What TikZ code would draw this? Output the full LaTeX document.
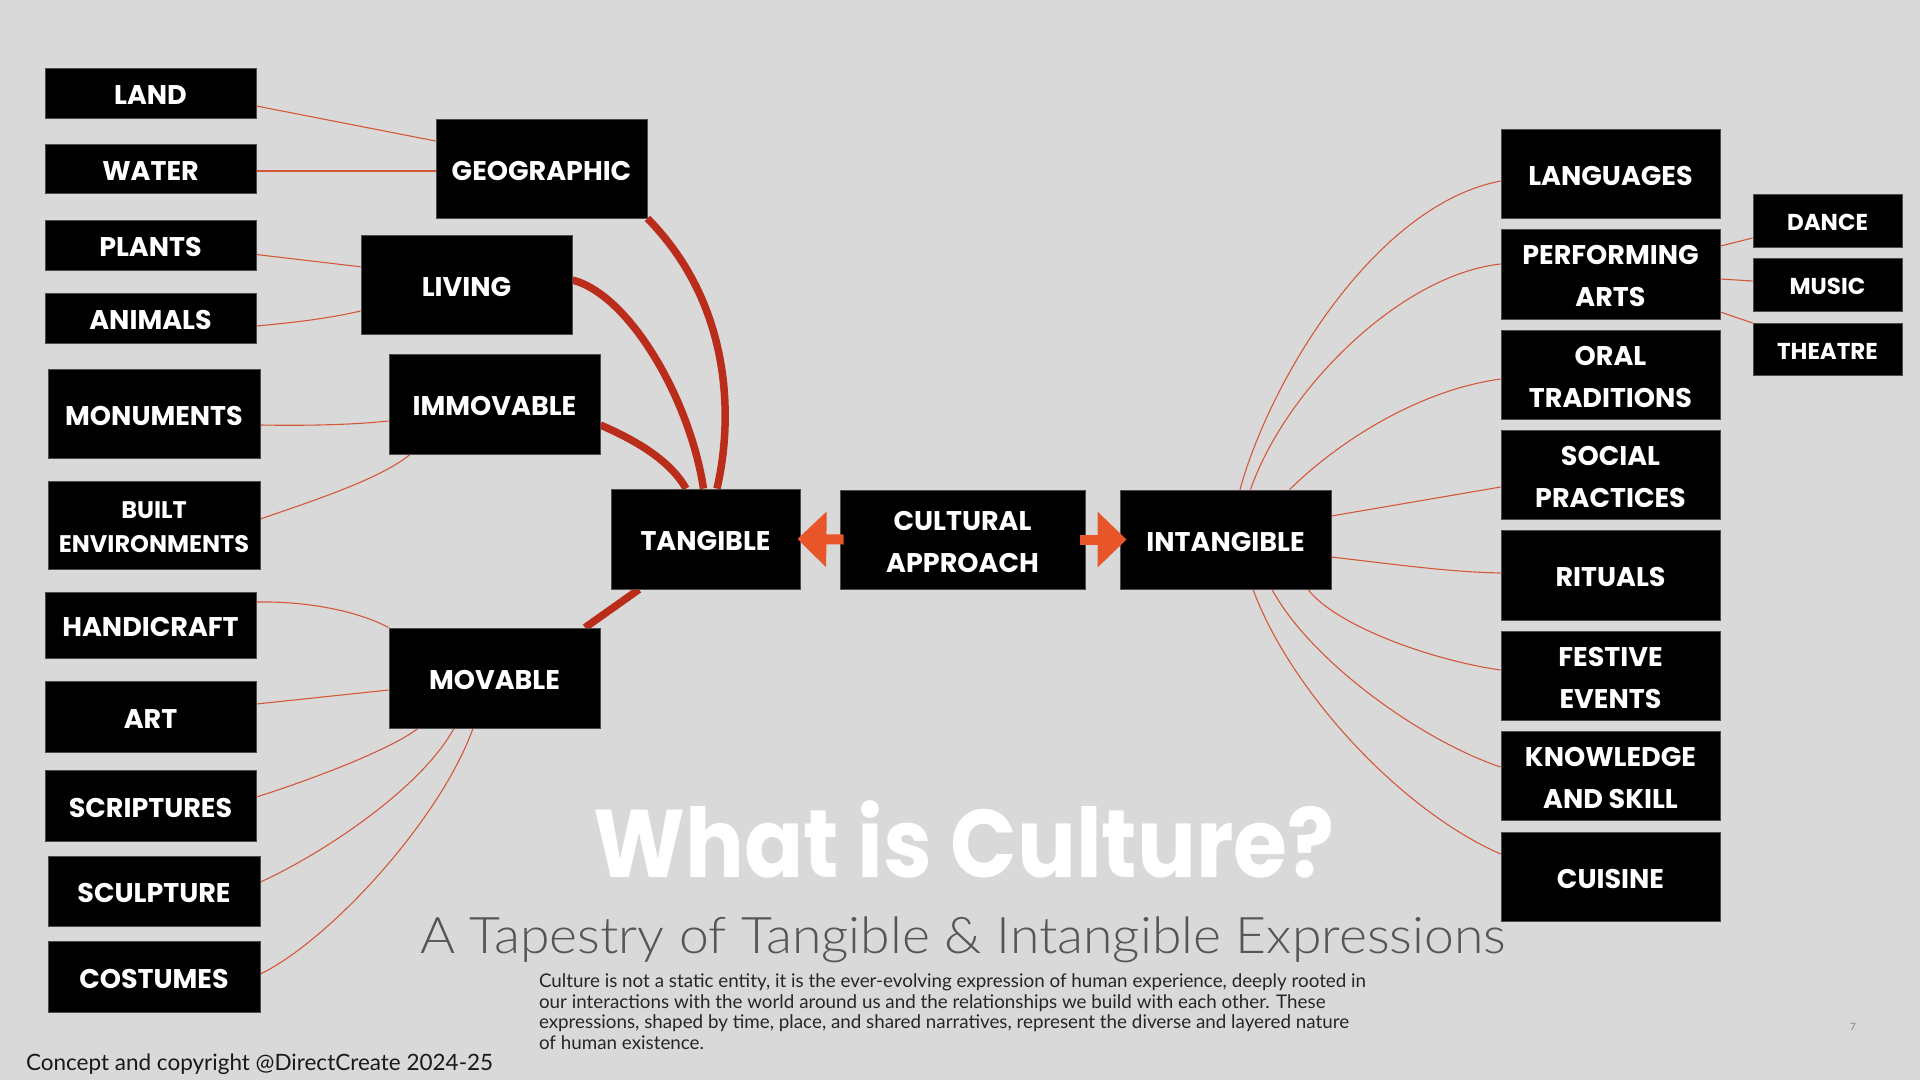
\documentclass[tikz,border=0pt]{standalone}
\usepackage{fontspec}
\setmainfont{Lato}
\newfontfamily\boxfont{Poppins}
\newfontfamily\titlefont{Poppins}[FakeStretch=0.91]
\newfontfamily\lightfont{Lato Light}[FakeStretch=1.06]
\usetikzlibrary{arrows.meta}
\definecolor{bg}{RGB}{217,217,217}
\definecolor{thinc}{RGB}{211,88,58}
\definecolor{thickc}{RGB}{185,45,26}
\definecolor{arrc}{RGB}{232,85,40}
\definecolor{subc}{RGB}{85,85,90}
\pgfdeclarelayer{back}
\pgfdeclarelayer{lines}
\pgfsetlayers{back,lines,main}
\newcommand\boxat[7][]{\node[bx,#1, minimum width={#5-#3}, minimum height={#6-#4}] (#2) at ({(#3+#5)/2},{(#4+#6)/2}) {\rule{0pt}{0.88em}#7};}
\begin{document}
\begin{tikzpicture}[x=1pt,y=-1pt,
  bx/.style={fill=black, draw=black!70, line width=0.8pt, inner sep=0pt, text=white, align=center,
    font=\boxfont\bfseries\fontsize{27}{42}\selectfont},
  smallbx/.style={font=\boxfont\bfseries\fontsize{24}{34}\selectfont},
  subbx/.style={font=\boxfont\bfseries\fontsize{23}{30}\selectfont},
  thinl/.style={draw=thinc, line width=1.1pt},
  thickl/.style={draw=thickc, line width=7.5pt},
  arrl/.style={draw=arrc, line width=10pt, -{Triangle[length=29pt,width=54pt]}},
  txt/.style={inner sep=0pt, outer sep=0pt}]
\begin{pgfonlayer}{back}
\fill[bg] (0,0) rectangle (1920,1080);
\end{pgfonlayer}
\useasboundingbox (0,0) rectangle (1920,1080);
% left leaves
\boxat{land}{45}{68}{256}{118}{LAND}
\boxat{water}{45}{144}{256}{193}{WATER}
\boxat{plants}{45}{220}{256}{270}{PLANTS}
\boxat{animals}{45}{293}{256}{343}{ANIMALS}
\boxat{monuments}{48}{369}{260}{458}{MONUMENTS}
\boxat[smallbx]{built}{48}{481}{260}{569}{BUILT\\ENVIRONMENTS}
\boxat{handicraft}{45}{592}{256}{658}{HANDICRAFT}
\boxat{art}{45}{681}{256}{752}{ART}
\boxat{scriptures}{45}{770}{256}{841}{SCRIPTURES}
\boxat{sculpture}{48}{856}{260}{926}{SCULPTURE}
\boxat{costumes}{48}{941}{260}{1012}{COSTUMES}
% categories
\boxat{geo}{436}{119}{647}{218}{GEOGRAPHIC}
\boxat{living}{361}{235}{572}{334}{LIVING}
\boxat{immovable}{389}{354}{600}{454}{IMMOVABLE}
\boxat{movable}{389}{628}{600}{728}{MOVABLE}
% centre
\boxat{tangible}{611}{489}{800}{589}{TANGIBLE}
\boxat{cultural}{840}{490}{1085}{589}{CULTURAL\\APPROACH}
\boxat{intangible}{1120}{490}{1331}{589}{INTANGIBLE}
% right
\boxat{languages}{1501}{129}{1720}{218}{LANGUAGES}
\boxat{perf}{1501}{229}{1720}{319}{PERFORMING\\ARTS}
\boxat{oral}{1501}{330}{1720}{419}{ORAL\\TRADITIONS}
\boxat{social}{1501}{430}{1720}{519}{SOCIAL\\PRACTICES}
\boxat{rituals}{1501}{530}{1720}{620}{RITUALS}
\boxat{festive}{1501}{631}{1720}{720}{FESTIVE\\EVENTS}
\boxat{knowledge}{1501}{731}{1720}{820}{KNOWLEDGE\\AND SKILL}
\boxat{cuisine}{1501}{832}{1720}{921}{CUISINE}
\boxat[subbx]{dance}{1753}{194}{1902}{247}{DANCE}
\boxat[subbx]{music}{1753}{258}{1902}{311}{MUSIC}
\boxat[subbx]{theatre}{1753}{323}{1902}{375}{THEATRE}
\begin{pgfonlayer}{lines}
\draw[thinl] ([yshift=-13pt]land.east) -- ([yshift=27.5pt]geo.west);
\draw[thinl] ([yshift=-2.5pt]water.east) -- ([yshift=-2.5pt]geo.west);
\draw[thinl] ([yshift=-9.5pt]plants.east) -- ([yshift=17.7pt]living.west);
\draw[thinl] ([yshift=-8pt]animals.east) .. controls (300,322) and (330,318) .. ([yshift=-26.5pt]living.west);
\draw[thinl] ([yshift=-11.5pt]monuments.east) .. controls (320,426) and (360,424) .. ([yshift=-17pt]immovable.west);
\draw[thinl] ([yshift=6pt]built.east) .. controls (300,505) and (380,480) .. ([xshift=-84.5pt]immovable.south);
\draw[thinl] ([yshift=23pt]handicraft.east) .. controls (310,601) and (360,612) .. (movable.north west);
\draw[thinl] ([yshift=12.5pt]art.east) -- ([yshift=-12pt]movable.west);
\draw[thinl] ([yshift=8.5pt]scriptures.east) .. controls (310,780) and (390,750) .. ([xshift=-76.5pt]movable.south);
\draw[thinl] ([yshift=9pt]sculpture.east) .. controls (320,855) and (420,790) .. ([xshift=-40.5pt]movable.south);
\draw[thinl] ([yshift=2.5pt]costumes.east) .. controls (330,940) and (440,820) .. ([xshift=-21.5pt]movable.south);
\draw[thickl] (geo.south east) .. controls (728,300) and (735,410) .. ([xshift=11.5pt]tangible.north);
\draw[thickl] ([yshift=4.5pt]living.east) .. controls (630,295) and (690,400) .. ([xshift=-2pt]tangible.north);
\draw[thickl] ([yshift=-21pt]immovable.east) .. controls (635,440) and (670,460) .. ([xshift=-19.5pt]tangible.north);
\draw[thickl] ([xshift=90.5pt]movable.north) -- ([xshift=-66.5pt]tangible.south);
\draw[thinl] ([xshift=14.5pt]intangible.north) .. controls (1270,380) and (1375,205) .. ([yshift=-7.5pt]languages.west);
\draw[thinl] ([xshift=25pt]intangible.north) .. controls (1285,390) and (1400,275) .. ([yshift=10pt]perf.west);
\draw[thinl] ([xshift=64pt]intangible.north) .. controls (1340,440) and (1420,390) .. ([yshift=-4.5pt]oral.west);
\draw[thinl] ([yshift=23.5pt]intangible.east) -- ([yshift=-12.5pt]social.west);
\draw[thinl] ([yshift=-17.5pt]intangible.east) .. controls (1400,565) and (1450,572) .. ([yshift=2pt]rituals.west);
\draw[thinl] ([xshift=82.5pt]intangible.south) .. controls (1335,625) and (1430,660) .. ([yshift=5.5pt]festive.west);
\draw[thinl] ([xshift=46.5pt]intangible.south) .. controls (1310,660) and (1420,740) .. ([yshift=8.5pt]knowledge.west);
\draw[thinl] ([xshift=27.5pt]intangible.south) .. controls (1290,690) and (1400,810) .. ([yshift=22.5pt]cuisine.west);
\draw[thinl] ([yshift=28pt]perf.east) -- ([yshift=-17.5pt]dance.west);
\draw[thinl] ([yshift=-5pt]perf.east) -- ([yshift=3.5pt]music.west);
\draw[thinl] ([yshift=-38pt]perf.east) -- ([yshift=26pt]theatre.west);
\end{pgfonlayer}
\draw[arrl] ([xshift=4pt]cultural.west) -- ([xshift=-3pt]tangible.east);
\draw[arrl] ([xshift=-5pt]cultural.east) -- ([xshift=7pt]intangible.west);
% texts
\node[txt, anchor=base, text=white, font=\titlefont\bfseries\fontsize{96}{96}\selectfont] (title) at (964,877) {What is Culture?};
\node[txt, anchor=base, text=subc, font=\lightfont\fontsize{50.5}{50.5}\selectfont] (subtitle) at (963,953) {A Tapestry of Tangible \& Intangible Expressions};
\begin{scope}[every node/.style={txt, anchor=base west, text=black!85, font=\fontsize{18.8}{21}\selectfont}]
\node (b1) at (539,987) {Culture is not a static entity, it is the ever-evolving expression of human experience, deeply rooted in};
\node (b2) at (539,1008) {our interactions with the world around us and the relationships we build with each other. These};
\node (b3) at (539,1028) {expressions, shaped by time, place, and shared narratives, represent the diverse and layered nature};
\node (b4) at (539,1049) {of human existence.};
\end{scope}
\node[txt, anchor=base west, text=black!90, font=\fontsize{22.5}{22.5}\selectfont] (copy) at (26,1070) {Concept and copyright @DirectCreate 2024-25};
\node[txt, anchor=base, text=black!50, font=\fontsize{10}{10}\selectfont] (pg) at (1853,1030) {7};
\end{tikzpicture}
\end{document}
